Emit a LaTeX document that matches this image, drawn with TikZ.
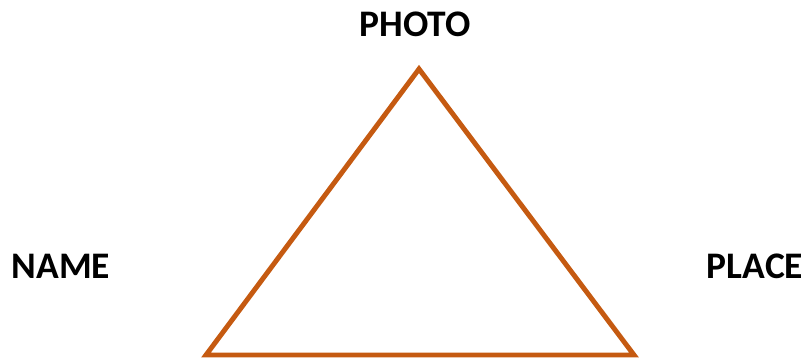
\documentclass[tikz,border=0pt]{standalone}
\usepackage{fontspec}
\setmainfont{Carlito}
\usepackage{tikz}
\usetikzlibrary{positioning}
\definecolor{edgeorange}{RGB}{197,90,17}

\begin{document}
\begin{tikzpicture}[
  x=0.03cm, y=-0.03cm,
  label/.style={font=\fontsize{32}{38}\selectfont\bfseries, text=black,
    inner sep=0pt, anchor=center},
  tri/.style={draw=edgeorange, line width=4.2pt, line join=miter},
]
\useasboundingbox (0,0) rectangle (803,360);

% ── corners of the triangle
\coordinate (top)   at (419, 69);
\coordinate (left)  at (206,355);
\coordinate (right) at (634,355);

% ── labels
\node[label] at (415, 24) (photo) {PHOTO};
\node[label] at ( 61,266) (name)  {NAME};
\node[label] at (755,266) (place) {PLACE};

% ── triangle
\draw[tri] (top) -- (right) -- (left) -- cycle;

\end{tikzpicture}
\end{document}
